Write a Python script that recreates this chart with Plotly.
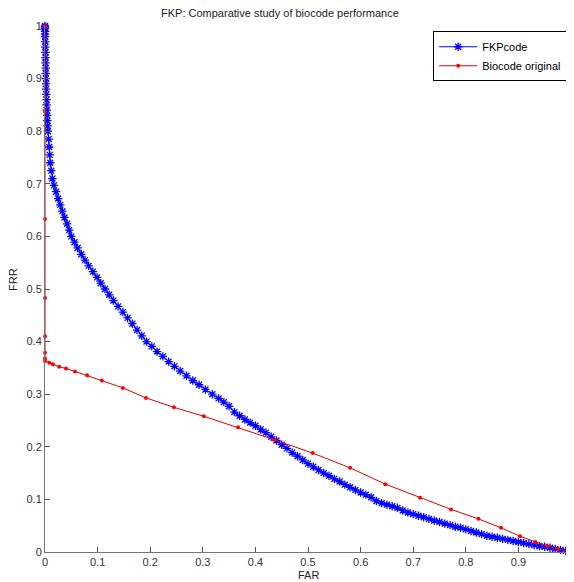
import plotly.graph_objects as go

# FKPcode (blue) curve points
fkp_far = [0, 0, 0, 0, 0, 0, 0.0005, 0.0005, 0.001, 0.001, 0.001, 0.0015, 0.0015, 0.002, 0.002, 0.002,
           0.0025, 0.003, 0.003, 0.0035, 0.004, 0.0045, 0.005, 0.0055,
           0.007, 0.008, 0.009, 0.010, 0.012, 0.014, 0.017,
           0.021, 0.025, 0.029, 0.033, 0.037, 0.042, 0.046, 0.050,
           0.056, 0.062, 0.069, 0.076, 0.083, 0.091, 0.099, 0.106, 0.114,
           0.122, 0.130, 0.139, 0.148, 0.157, 0.166, 0.175, 0.184, 0.193,
           0.203, 0.213, 0.224, 0.235, 0.246, 0.257, 0.269, 0.281, 0.293, 0.305, 0.318,
           0.33, 0.34, 0.35, 0.36, 0.37, 0.38, 0.39, 0.40, 0.41, 0.42, 0.43, 0.44, 0.45,
           0.46, 0.47, 0.48, 0.49, 0.50, 0.51, 0.52, 0.53, 0.54, 0.55, 0.56, 0.57, 0.58,
           0.59, 0.60, 0.61, 0.62, 0.63, 0.64, 0.65, 0.66, 0.67, 0.68, 0.69, 0.70, 0.71,
           0.72, 0.73, 0.74, 0.75, 0.76, 0.77, 0.78, 0.79, 0.80, 0.81, 0.82, 0.83, 0.84,
           0.85, 0.86, 0.87, 0.88, 0.89, 0.90, 0.91, 0.92, 0.93, 0.94, 0.95, 0.96, 0.97,
           0.98, 0.99, 1.00]
fkp_frr = [1.0, 0.998, 0.995, 0.99, 0.985, 0.98, 0.97, 0.96, 0.95, 0.94, 0.93, 0.92, 0.91, 0.90, 0.89, 0.88,
           0.87, 0.86, 0.85, 0.84, 0.83, 0.82, 0.81, 0.80,
           0.785, 0.77, 0.755, 0.74, 0.725, 0.71, 0.697,
           0.685, 0.672, 0.66, 0.648, 0.636, 0.624, 0.612, 0.60,
           0.589, 0.578, 0.566, 0.555, 0.544, 0.533, 0.522, 0.511, 0.50,
           0.489, 0.478, 0.467, 0.456, 0.445, 0.434, 0.422, 0.411, 0.40,
           0.391, 0.381, 0.372, 0.362, 0.353, 0.344, 0.335, 0.326, 0.318, 0.309, 0.30,
           0.292, 0.285, 0.277, 0.266, 0.259, 0.252, 0.246, 0.240, 0.233, 0.227, 0.219, 0.212, 0.204,
           0.197, 0.189, 0.182, 0.175, 0.168, 0.162, 0.156, 0.150, 0.145, 0.139, 0.134, 0.128, 0.123,
           0.118, 0.113, 0.109, 0.104, 0.097, 0.093, 0.090, 0.087, 0.084, 0.079, 0.075, 0.072, 0.069,
           0.066, 0.063, 0.060, 0.057, 0.054, 0.051, 0.048, 0.046, 0.043, 0.040, 0.037, 0.034, 0.031,
           0.029, 0.027, 0.025, 0.023, 0.021, 0.019, 0.017, 0.015, 0.013, 0.011, 0.010, 0.008, 0.006,
           0.004, 0.002, 0.0]

# Biocode original (red) curve points
bio_far = [0, 0, 0, 0, 0, 0, 0, 0, 0.008, 0.015, 0.027, 0.040, 0.057, 0.080, 0.108, 0.148, 0.192,
           0.245, 0.302, 0.367, 0.437, 0.509, 0.580, 0.647, 0.713, 0.772, 0.824, 0.867, 0.903,
           0.932, 0.955, 0.975, 1.0]
bio_frr = [1.0, 0.837, 0.633, 0.483, 0.41, 0.379, 0.368, 0.363, 0.36, 0.357, 0.352, 0.349, 0.343,
           0.336, 0.326, 0.312, 0.293, 0.275, 0.258, 0.237, 0.213, 0.188, 0.160, 0.129, 0.103,
           0.081, 0.063, 0.046, 0.030, 0.019, 0.011, 0.006, 0.0]

tick_vals = [0, 0.1, 0.2, 0.3, 0.4, 0.5, 0.6, 0.7, 0.8, 0.9, 1]
tick_text = ["0", "0.1", "0.2", "0.3", "0.4", "0.5", "0.6", "0.7", "0.8", "0.9", "1"]

FONT = "Liberation Sans, Arial, sans-serif"

fig = go.Figure()
fig.add_trace(go.Scatter(
    x=fkp_far, y=fkp_frr, mode="lines+markers", name="FKPcode",
    line=dict(color="#0000ff", width=1),
    marker=dict(symbol="asterisk-open", size=7, color="#0000ff", line=dict(color="#0000ff", width=1.3)),
    cliponaxis=False,
))
fig.add_trace(go.Scatter(
    x=bio_far, y=bio_frr, mode="lines+markers", name="Biocode original",
    line=dict(color="#e00000", width=1),
    marker=dict(symbol="circle", size=4, color="#ff0000"),
    cliponaxis=False,
))

axis_common = dict(
    range=[0, 1], tickvals=tick_vals, ticktext=tick_text,
    ticks="inside", ticklen=5, tickcolor="#555555", tickwidth=1,
    showline=True, linecolor="#777777", linewidth=1, mirror=False,
    showgrid=False, zeroline=False, automargin=False, ticklabeloverflow="allow",
    tickfont=dict(family=FONT, size=11, color="#333333"),
)

# page body adds an 8px offset, so the figure is sized/margined to compensate
fig.update_layout(
    width=566, height=574,
    margin=dict(l=37, r=3, t=18, b=30, autoexpand=False),
    paper_bgcolor="white", plot_bgcolor="white",
    xaxis=dict(**axis_common),
    yaxis=dict(**axis_common),
    showlegend=True,
    legend=dict(
        x=0.738, y=0.99, xanchor="left", yanchor="top",
        bgcolor="white", bordercolor="#000000", borderwidth=1,
        font=dict(family=FONT, size=11, color="#000000"),
        tracegroupgap=0, itemsizing="trace", itemwidth=38,
    ),
    annotations=[
        dict(text="FKP: Comparative study of biocode performance", x=0.447, y=1.025,
             xref="paper", yref="paper", showarrow=False, xanchor="center", yanchor="middle",
             font=dict(family=FONT, size=11, color="#222222")),
        dict(text="FAR", x=0.5, y=-0.044, xref="paper", yref="paper", showarrow=False,
             xanchor="center", yanchor="middle", font=dict(family=FONT, size=11, color="#222222")),
        dict(text="FRR", x=-0.061, y=0.519, xref="paper", yref="paper", showarrow=False,
             textangle=-90, xanchor="center", yanchor="middle",
             font=dict(family=FONT, size=11, color="#222222")),
    ],
)

fig.write_html("out.html")
